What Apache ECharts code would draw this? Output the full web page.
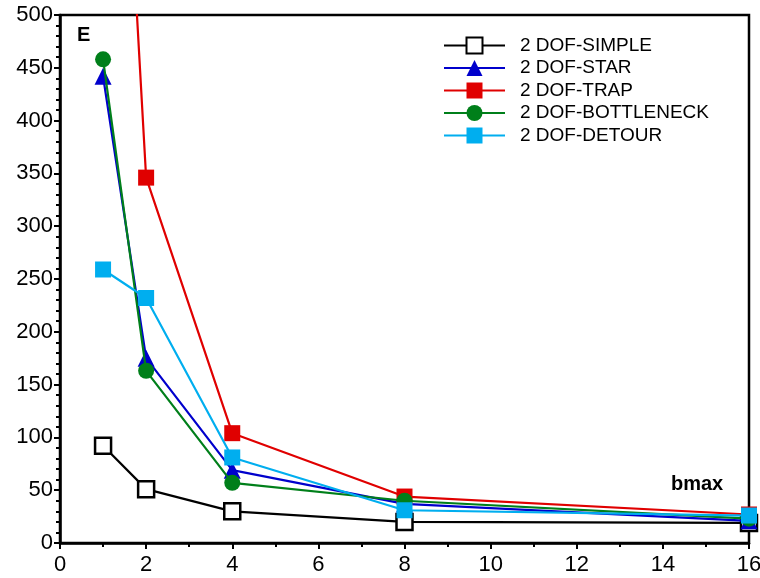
<!DOCTYPE html>
<html>
<head>
<meta charset="utf-8">
<script src="https://cdn.jsdelivr.net/npm/echarts@6/dist/echarts.min.js"></script>
<style>
  html, body { margin: 0; padding: 0; background: #fff; overflow: hidden; }
  #chart { width: 760px; height: 578px; }
</style>
</head>
<body>
<div id="chart"></div>
<script>
// bmax values on the x axis
const bmax = [1, 2, 4, 8, 16];

const seriesNames = ["2 DOF-SIMPLE", "2 DOF-STAR", "2 DOF-TRAP", "2 DOF-BOTTLENECK", "2 DOF-DETOUR"];
const simpleE = [92, 51, 30, 20, 19];
const starE = [442, 175, 69, 37, 21];
const trapE = [1070, 346, 104, 44, 27];
const bottleneckE = [458, 163, 57, 40, 23];
const detourE = [259, 232, 81, 31, 26];

const colors = ["#000000", "#0000cc", "#e00000", "#007f1a", "#00aeef"];
const symbols = ["rect", "triangle", "rect", "circle", "rect"];

function pairs(values) {
    return values.map(function (v, i) { return [bmax[i], v]; });
}

const allValues = [simpleE, starE, trapE, bottleneckE, detourE];

const chart = echarts.init(document.getElementById("chart"));

const font = "Liberation Sans, Arial, sans-serif";

const option = {
    animation: false,
    textStyle: { fontFamily: font },
    grid: {
        left: 60,
        right: 11,
        top: 15,
        bottom: 35,
        outerBoundsMode: "none",
        containLabel: false,
        show: true,
        borderColor: "#000",
        borderWidth: 2.5
    },
    legend: {
        orient: "vertical",
        left: 438,
        top: 31,
        itemWidth: 61,
        itemHeight: 20,
        itemGap: 3.5,
        textStyle: {
            fontFamily: font,
            fontSize: 19,
            color: "#000",
            padding: [0, 0, 0, 10]
        },
        data: seriesNames
    },
    xAxis: {
        type: "value",
        min: 0,
        max: 16,
        interval: 2,
        splitLine: { show: false },
        axisLine: { lineStyle: { color: "#000", width: 2.5 } },
        axisTick: { length: 6, lineStyle: { color: "#000", width: 2 } },
        minorTick: { show: true, splitNumber: 2, length: 4, lineStyle: { color: "#000", width: 2 } },
        axisLabel: { color: "#000", fontSize: 22, margin: 11, fontFamily: font }
    },
    yAxis: {
        type: "value",
        min: 0,
        max: 500,
        interval: 50,
        splitLine: { show: false },
        axisLine: { lineStyle: { color: "#000", width: 2.5 } },
        axisTick: { length: 6, lineStyle: { color: "#000", width: 2 } },
        minorTick: { show: true, splitNumber: 5, length: 4, lineStyle: { color: "#000", width: 2 } },
        axisLabel: { color: "#000", fontSize: 22, margin: 7, fontFamily: font }
    },
    graphic: [
        {
            type: "text",
            left: 77,
            top: 25,
            style: { text: "E", font: "bold 20px " + font, fill: "#000" }
        },
        {
            type: "text",
            left: 671,
            top: 474,
            style: { text: "bmax", font: "bold 20px " + font, fill: "#000" }
        }
    ],
    series: seriesNames.map(function (name, i) {
        return {
            name: name,
            type: "line",
            data: pairs(allValues[i]),
            symbol: symbols[i],
            symbolSize: i === 1 ? 17 : 16,
            showAllSymbol: true,
            clip: true,
            color: colors[i],
            lineStyle: { color: colors[i], width: 2.2 },
            itemStyle: i === 0
                ? { color: "#fff", borderColor: "#000", borderWidth: 2.5 }
                : { color: colors[i], borderWidth: 0 },
            z: 2 + i
        };
    })
};

chart.setOption(option);
</script>
</body>
</html>
